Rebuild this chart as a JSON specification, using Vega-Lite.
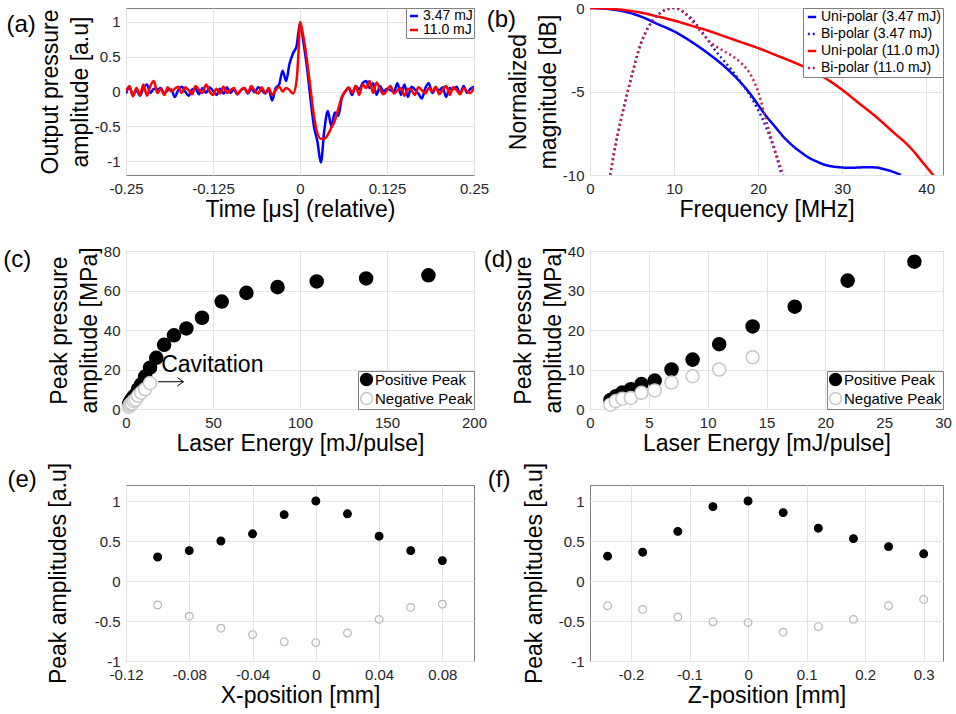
{
"$schema": "https://vega.github.io/schema/vega-lite/v6.json",
"padding": {"left": 2, "top": 0, "right": 5, "bottom": 0},
"config": {
  "font": "Liberation Sans",
  "locale": {"number": {"decimal": ".", "thousands": ",", "grouping": [3], "currency": ["$", ""], "minus": "-"}},
  "view": {"stroke": "#808080", "strokeWidth": 1},
  "axis": {"domain": false, "ticks": false, "grid": true, "gridColor": "#e3e3e3", "labelFont": "Liberation Sans", "labelFontSize": 15, "labelColor": "#262626", "labelPadding": 6, "labelFlush": false, "labelOverlap": false, "titleFont": "Liberation Sans", "titleFontSize": 23, "titleFontWeight": "normal", "titleColor": "#000000", "titlePadding": 2, "titleLineHeight": 30},
  "title": {"font": "Liberation Sans", "fontSize": 24, "fontWeight": "normal", "color": "#000000"},
  "legend": {"labelFont": "Liberation Sans", "labelColor": "#000000"}
},
"datasets": {
  "wave": [
    {"t":-0.25,"v":-0.03,"s":"3.47 mJ"},{"t":-0.245,"v":0.06,"s":"3.47 mJ"},{"t":-0.24,"v":-0.05,"s":"3.47 mJ"},{"t":-0.235,"v":0.02,"s":"3.47 mJ"},{"t":-0.23,"v":-0.06,"s":"3.47 mJ"},{"t":-0.225,"v":0.05,"s":"3.47 mJ"},{"t":-0.22,"v":0.1,"s":"3.47 mJ"},{"t":-0.215,"v":-0.02,"s":"3.47 mJ"},{"t":-0.21,"v":0.04,"s":"3.47 mJ"},{"t":-0.205,"v":0.03,"s":"3.47 mJ"},{"t":-0.2,"v":0.05,"s":"3.47 mJ"},{"t":-0.195,"v":-0.03,"s":"3.47 mJ"},{"t":-0.19,"v":0.02,"s":"3.47 mJ"},{"t":-0.185,"v":0.03,"s":"3.47 mJ"},{"t":-0.18,"v":-0.08,"s":"3.47 mJ"},{"t":-0.175,"v":0.02,"s":"3.47 mJ"},{"t":-0.17,"v":0.07,"s":"3.47 mJ"},{"t":-0.165,"v":0.0,"s":"3.47 mJ"},{"t":-0.16,"v":-0.06,"s":"3.47 mJ"},{"t":-0.155,"v":0.03,"s":"3.47 mJ"},{"t":-0.15,"v":0.04,"s":"3.47 mJ"},{"t":-0.145,"v":-0.04,"s":"3.47 mJ"},{"t":-0.14,"v":0.05,"s":"3.47 mJ"},{"t":-0.135,"v":-0.02,"s":"3.47 mJ"},{"t":-0.13,"v":0.06,"s":"3.47 mJ"},{"t":-0.125,"v":0.01,"s":"3.47 mJ"},{"t":-0.12,"v":-0.05,"s":"3.47 mJ"},{"t":-0.115,"v":0.04,"s":"3.47 mJ"},{"t":-0.11,"v":-0.03,"s":"3.47 mJ"},{"t":-0.105,"v":0.06,"s":"3.47 mJ"},{"t":-0.1,"v":-0.02,"s":"3.47 mJ"},{"t":-0.095,"v":0.03,"s":"3.47 mJ"},{"t":-0.09,"v":-0.04,"s":"3.47 mJ"},{"t":-0.085,"v":0.02,"s":"3.47 mJ"},{"t":-0.08,"v":0.05,"s":"3.47 mJ"},{"t":-0.075,"v":-0.03,"s":"3.47 mJ"},{"t":-0.07,"v":0.04,"s":"3.47 mJ"},{"t":-0.065,"v":-0.01,"s":"3.47 mJ"},{"t":-0.06,"v":0.06,"s":"3.47 mJ"},{"t":-0.055,"v":0.02,"s":"3.47 mJ"},{"t":-0.05,"v":-0.03,"s":"3.47 mJ"},{"t":-0.045,"v":0.03,"s":"3.47 mJ"},{"t":-0.04,"v":-0.13,"s":"3.47 mJ"},{"t":-0.035,"v":0.05,"s":"3.47 mJ"},{"t":-0.03,"v":0.1,"s":"3.47 mJ"},{"t":-0.025,"v":0.3,"s":"3.47 mJ"},{"t":-0.02,"v":0.15,"s":"3.47 mJ"},{"t":-0.015,"v":0.4,"s":"3.47 mJ"},{"t":-0.01,"v":0.55,"s":"3.47 mJ"},{"t":-0.005,"v":0.65,"s":"3.47 mJ"},{"t":0.0,"v":0.98,"s":"3.47 mJ"},{"t":0.005,"v":0.7,"s":"3.47 mJ"},{"t":0.01,"v":0.35,"s":"3.47 mJ"},{"t":0.015,"v":-0.1,"s":"3.47 mJ"},{"t":0.02,"v":-0.5,"s":"3.47 mJ"},{"t":0.025,"v":-0.72,"s":"3.47 mJ"},{"t":0.03,"v":-1.02,"s":"3.47 mJ"},{"t":0.035,"v":-0.55,"s":"3.47 mJ"},{"t":0.04,"v":-0.28,"s":"3.47 mJ"},{"t":0.045,"v":-0.5,"s":"3.47 mJ"},{"t":0.05,"v":-0.3,"s":"3.47 mJ"},{"t":0.055,"v":-0.35,"s":"3.47 mJ"},{"t":0.06,"v":-0.1,"s":"3.47 mJ"},{"t":0.065,"v":0.0,"s":"3.47 mJ"},{"t":0.07,"v":0.05,"s":"3.47 mJ"},{"t":0.075,"v":-0.05,"s":"3.47 mJ"},{"t":0.08,"v":0.08,"s":"3.47 mJ"},{"t":0.085,"v":0.03,"s":"3.47 mJ"},{"t":0.09,"v":0.12,"s":"3.47 mJ"},{"t":0.095,"v":0.15,"s":"3.47 mJ"},{"t":0.1,"v":0.05,"s":"3.47 mJ"},{"t":0.105,"v":0.12,"s":"3.47 mJ"},{"t":0.11,"v":-0.05,"s":"3.47 mJ"},{"t":0.115,"v":0.08,"s":"3.47 mJ"},{"t":0.12,"v":0.0,"s":"3.47 mJ"},{"t":0.125,"v":0.04,"s":"3.47 mJ"},{"t":0.13,"v":0.02,"s":"3.47 mJ"},{"t":0.135,"v":0.0,"s":"3.47 mJ"},{"t":0.14,"v":0.12,"s":"3.47 mJ"},{"t":0.145,"v":-0.05,"s":"3.47 mJ"},{"t":0.15,"v":0.1,"s":"3.47 mJ"},{"t":0.155,"v":-0.08,"s":"3.47 mJ"},{"t":0.16,"v":0.07,"s":"3.47 mJ"},{"t":0.165,"v":0.03,"s":"3.47 mJ"},{"t":0.17,"v":-0.03,"s":"3.47 mJ"},{"t":0.175,"v":-0.1,"s":"3.47 mJ"},{"t":0.18,"v":0.05,"s":"3.47 mJ"},{"t":0.185,"v":0.12,"s":"3.47 mJ"},{"t":0.19,"v":-0.02,"s":"3.47 mJ"},{"t":0.195,"v":0.04,"s":"3.47 mJ"},{"t":0.2,"v":0.02,"s":"3.47 mJ"},{"t":0.205,"v":0.06,"s":"3.47 mJ"},{"t":0.21,"v":-0.08,"s":"3.47 mJ"},{"t":0.215,"v":0.05,"s":"3.47 mJ"},{"t":0.22,"v":0.03,"s":"3.47 mJ"},{"t":0.225,"v":0.07,"s":"3.47 mJ"},{"t":0.23,"v":-0.03,"s":"3.47 mJ"},{"t":0.235,"v":0.08,"s":"3.47 mJ"},{"t":0.24,"v":-0.02,"s":"3.47 mJ"},{"t":0.245,"v":0.04,"s":"3.47 mJ"},{"t":0.25,"v":0.07,"s":"3.47 mJ"},
    {"t":-0.25,"v":0.0,"s":"11.0 mJ"},{"t":-0.245,"v":0.08,"s":"11.0 mJ"},{"t":-0.24,"v":-0.07,"s":"11.0 mJ"},{"t":-0.235,"v":0.05,"s":"11.0 mJ"},{"t":-0.23,"v":-0.05,"s":"11.0 mJ"},{"t":-0.225,"v":0.1,"s":"11.0 mJ"},{"t":-0.22,"v":-0.06,"s":"11.0 mJ"},{"t":-0.215,"v":0.08,"s":"11.0 mJ"},{"t":-0.21,"v":0.15,"s":"11.0 mJ"},{"t":-0.205,"v":-0.02,"s":"11.0 mJ"},{"t":-0.2,"v":0.04,"s":"11.0 mJ"},{"t":-0.195,"v":-0.05,"s":"11.0 mJ"},{"t":-0.19,"v":0.06,"s":"11.0 mJ"},{"t":-0.185,"v":0.0,"s":"11.0 mJ"},{"t":-0.18,"v":0.04,"s":"11.0 mJ"},{"t":-0.175,"v":0.07,"s":"11.0 mJ"},{"t":-0.17,"v":-0.02,"s":"11.0 mJ"},{"t":-0.165,"v":0.06,"s":"11.0 mJ"},{"t":-0.16,"v":0.02,"s":"11.0 mJ"},{"t":-0.155,"v":-0.04,"s":"11.0 mJ"},{"t":-0.15,"v":0.08,"s":"11.0 mJ"},{"t":-0.145,"v":0.02,"s":"11.0 mJ"},{"t":-0.14,"v":-0.02,"s":"11.0 mJ"},{"t":-0.135,"v":0.1,"s":"11.0 mJ"},{"t":-0.13,"v":0.0,"s":"11.0 mJ"},{"t":-0.125,"v":-0.05,"s":"11.0 mJ"},{"t":-0.12,"v":0.04,"s":"11.0 mJ"},{"t":-0.115,"v":-0.03,"s":"11.0 mJ"},{"t":-0.11,"v":0.07,"s":"11.0 mJ"},{"t":-0.105,"v":-0.02,"s":"11.0 mJ"},{"t":-0.1,"v":0.02,"s":"11.0 mJ"},{"t":-0.095,"v":0.05,"s":"11.0 mJ"},{"t":-0.09,"v":-0.04,"s":"11.0 mJ"},{"t":-0.085,"v":0.02,"s":"11.0 mJ"},{"t":-0.08,"v":0.05,"s":"11.0 mJ"},{"t":-0.075,"v":-0.02,"s":"11.0 mJ"},{"t":-0.07,"v":0.08,"s":"11.0 mJ"},{"t":-0.065,"v":0.01,"s":"11.0 mJ"},{"t":-0.06,"v":-0.03,"s":"11.0 mJ"},{"t":-0.055,"v":0.06,"s":"11.0 mJ"},{"t":-0.05,"v":-0.02,"s":"11.0 mJ"},{"t":-0.045,"v":0.05,"s":"11.0 mJ"},{"t":-0.04,"v":-0.05,"s":"11.0 mJ"},{"t":-0.035,"v":0.02,"s":"11.0 mJ"},{"t":-0.03,"v":0.07,"s":"11.0 mJ"},{"t":-0.025,"v":0.0,"s":"11.0 mJ"},{"t":-0.02,"v":0.05,"s":"11.0 mJ"},{"t":-0.015,"v":0.02,"s":"11.0 mJ"},{"t":-0.01,"v":-0.03,"s":"11.0 mJ"},{"t":-0.005,"v":0.15,"s":"11.0 mJ"},{"t":-0.0025,"v":0.5,"s":"11.0 mJ"},{"t":0.0,"v":1.0,"s":"11.0 mJ"},{"t":0.005,"v":0.78,"s":"11.0 mJ"},{"t":0.01,"v":0.45,"s":"11.0 mJ"},{"t":0.015,"v":0.05,"s":"11.0 mJ"},{"t":0.02,"v":-0.35,"s":"11.0 mJ"},{"t":0.025,"v":-0.6,"s":"11.0 mJ"},{"t":0.03,"v":-0.68,"s":"11.0 mJ"},{"t":0.035,"v":-0.68,"s":"11.0 mJ"},{"t":0.04,"v":-0.62,"s":"11.0 mJ"},{"t":0.045,"v":-0.52,"s":"11.0 mJ"},{"t":0.05,"v":-0.42,"s":"11.0 mJ"},{"t":0.055,"v":-0.25,"s":"11.0 mJ"},{"t":0.06,"v":-0.08,"s":"11.0 mJ"},{"t":0.065,"v":0.0,"s":"11.0 mJ"},{"t":0.07,"v":0.06,"s":"11.0 mJ"},{"t":0.075,"v":-0.02,"s":"11.0 mJ"},{"t":0.08,"v":0.08,"s":"11.0 mJ"},{"t":0.085,"v":-0.05,"s":"11.0 mJ"},{"t":0.09,"v":0.1,"s":"11.0 mJ"},{"t":0.095,"v":0.05,"s":"11.0 mJ"},{"t":0.1,"v":0.15,"s":"11.0 mJ"},{"t":0.105,"v":-0.02,"s":"11.0 mJ"},{"t":0.11,"v":0.13,"s":"11.0 mJ"},{"t":0.115,"v":0.03,"s":"11.0 mJ"},{"t":0.12,"v":-0.04,"s":"11.0 mJ"},{"t":0.125,"v":0.02,"s":"11.0 mJ"},{"t":0.13,"v":0.08,"s":"11.0 mJ"},{"t":0.135,"v":-0.03,"s":"11.0 mJ"},{"t":0.14,"v":0.02,"s":"11.0 mJ"},{"t":0.145,"v":0.05,"s":"11.0 mJ"},{"t":0.15,"v":-0.06,"s":"11.0 mJ"},{"t":0.155,"v":0.04,"s":"11.0 mJ"},{"t":0.16,"v":0.02,"s":"11.0 mJ"},{"t":0.165,"v":-0.05,"s":"11.0 mJ"},{"t":0.17,"v":0.06,"s":"11.0 mJ"},{"t":0.175,"v":0.02,"s":"11.0 mJ"},{"t":0.18,"v":-0.03,"s":"11.0 mJ"},{"t":0.185,"v":0.05,"s":"11.0 mJ"},{"t":0.19,"v":0.0,"s":"11.0 mJ"},{"t":0.195,"v":0.07,"s":"11.0 mJ"},{"t":0.2,"v":-0.04,"s":"11.0 mJ"},{"t":0.205,"v":0.03,"s":"11.0 mJ"},{"t":0.21,"v":0.08,"s":"11.0 mJ"},{"t":0.215,"v":-0.05,"s":"11.0 mJ"},{"t":0.22,"v":0.06,"s":"11.0 mJ"},{"t":0.225,"v":0.02,"s":"11.0 mJ"},{"t":0.23,"v":-0.04,"s":"11.0 mJ"},{"t":0.235,"v":0.05,"s":"11.0 mJ"},{"t":0.24,"v":0.0,"s":"11.0 mJ"},{"t":0.245,"v":-0.02,"s":"11.0 mJ"},{"t":0.25,"v":0.06,"s":"11.0 mJ"}
  ],
  "spec": [
    {"f":0,"m":0,"s":"Uni-polar (3.47 mJ)"},{"f":2,"m":-0.05,"s":"Uni-polar (3.47 mJ)"},{"f":4,"m":-0.2,"s":"Uni-polar (3.47 mJ)"},{"f":6,"m":-0.5,"s":"Uni-polar (3.47 mJ)"},{"f":8,"m":-0.95,"s":"Uni-polar (3.47 mJ)"},{"f":10,"m":-1.4,"s":"Uni-polar (3.47 mJ)"},{"f":12,"m":-2.0,"s":"Uni-polar (3.47 mJ)"},{"f":14,"m":-2.7,"s":"Uni-polar (3.47 mJ)"},{"f":16,"m":-3.5,"s":"Uni-polar (3.47 mJ)"},{"f":18,"m":-4.5,"s":"Uni-polar (3.47 mJ)"},{"f":19,"m":-5.1,"s":"Uni-polar (3.47 mJ)"},{"f":20,"m":-5.8,"s":"Uni-polar (3.47 mJ)"},{"f":21,"m":-6.5,"s":"Uni-polar (3.47 mJ)"},{"f":22,"m":-7.1,"s":"Uni-polar (3.47 mJ)"},{"f":23,"m":-7.7,"s":"Uni-polar (3.47 mJ)"},{"f":24,"m":-8.2,"s":"Uni-polar (3.47 mJ)"},{"f":25,"m":-8.6,"s":"Uni-polar (3.47 mJ)"},{"f":26,"m":-8.95,"s":"Uni-polar (3.47 mJ)"},{"f":27,"m":-9.2,"s":"Uni-polar (3.47 mJ)"},{"f":28,"m":-9.4,"s":"Uni-polar (3.47 mJ)"},{"f":29,"m":-9.5,"s":"Uni-polar (3.47 mJ)"},{"f":30,"m":-9.55,"s":"Uni-polar (3.47 mJ)"},{"f":31,"m":-9.57,"s":"Uni-polar (3.47 mJ)"},{"f":32,"m":-9.55,"s":"Uni-polar (3.47 mJ)"},{"f":33,"m":-9.53,"s":"Uni-polar (3.47 mJ)"},{"f":34,"m":-9.55,"s":"Uni-polar (3.47 mJ)"},{"f":35,"m":-9.65,"s":"Uni-polar (3.47 mJ)"},{"f":36,"m":-9.8,"s":"Uni-polar (3.47 mJ)"},{"f":37,"m":-10,"s":"Uni-polar (3.47 mJ)"},
    {"f":2.4,"m":-10,"s":"Bi-polar (3.47 mJ)"},{"f":3,"m":-8.3,"s":"Bi-polar (3.47 mJ)"},{"f":4,"m":-6.0,"s":"Bi-polar (3.47 mJ)"},{"f":5,"m":-4.0,"s":"Bi-polar (3.47 mJ)"},{"f":6,"m":-2.2,"s":"Bi-polar (3.47 mJ)"},{"f":7,"m":-1.1,"s":"Bi-polar (3.47 mJ)"},{"f":8,"m":-0.45,"s":"Bi-polar (3.47 mJ)"},{"f":9,"m":-0.1,"s":"Bi-polar (3.47 mJ)"},{"f":10,"m":0,"s":"Bi-polar (3.47 mJ)"},{"f":11,"m":-0.2,"s":"Bi-polar (3.47 mJ)"},{"f":12,"m":-0.6,"s":"Bi-polar (3.47 mJ)"},{"f":13,"m":-1.2,"s":"Bi-polar (3.47 mJ)"},{"f":14,"m":-1.9,"s":"Bi-polar (3.47 mJ)"},{"f":15,"m":-2.6,"s":"Bi-polar (3.47 mJ)"},{"f":16,"m":-3.2,"s":"Bi-polar (3.47 mJ)"},{"f":17,"m":-3.8,"s":"Bi-polar (3.47 mJ)"},{"f":18,"m":-4.5,"s":"Bi-polar (3.47 mJ)"},{"f":19,"m":-5.2,"s":"Bi-polar (3.47 mJ)"},{"f":20,"m":-6.1,"s":"Bi-polar (3.47 mJ)"},{"f":21,"m":-7.2,"s":"Bi-polar (3.47 mJ)"},{"f":22,"m":-8.6,"s":"Bi-polar (3.47 mJ)"},{"f":22.8,"m":-10,"s":"Bi-polar (3.47 mJ)"},
    {"f":0,"m":0,"s":"Uni-polar (11.0 mJ)"},{"f":2,"m":-0.03,"s":"Uni-polar (11.0 mJ)"},{"f":4,"m":-0.12,"s":"Uni-polar (11.0 mJ)"},{"f":6,"m":-0.27,"s":"Uni-polar (11.0 mJ)"},{"f":8,"m":-0.5,"s":"Uni-polar (11.0 mJ)"},{"f":10,"m":-0.75,"s":"Uni-polar (11.0 mJ)"},{"f":12,"m":-1.05,"s":"Uni-polar (11.0 mJ)"},{"f":14,"m":-1.35,"s":"Uni-polar (11.0 mJ)"},{"f":16,"m":-1.7,"s":"Uni-polar (11.0 mJ)"},{"f":18,"m":-2.05,"s":"Uni-polar (11.0 mJ)"},{"f":20,"m":-2.4,"s":"Uni-polar (11.0 mJ)"},{"f":22,"m":-2.8,"s":"Uni-polar (11.0 mJ)"},{"f":24,"m":-3.2,"s":"Uni-polar (11.0 mJ)"},{"f":26,"m":-3.65,"s":"Uni-polar (11.0 mJ)"},{"f":28,"m":-4.2,"s":"Uni-polar (11.0 mJ)"},{"f":30,"m":-4.9,"s":"Uni-polar (11.0 mJ)"},{"f":32,"m":-5.7,"s":"Uni-polar (11.0 mJ)"},{"f":34,"m":-6.5,"s":"Uni-polar (11.0 mJ)"},{"f":36,"m":-7.4,"s":"Uni-polar (11.0 mJ)"},{"f":38,"m":-8.3,"s":"Uni-polar (11.0 mJ)"},{"f":40,"m":-9.5,"s":"Uni-polar (11.0 mJ)"},{"f":41,"m":-10.1,"s":"Uni-polar (11.0 mJ)"},
    {"f":2.4,"m":-10,"s":"Bi-polar (11.0 mJ)"},{"f":3,"m":-8.3,"s":"Bi-polar (11.0 mJ)"},{"f":4,"m":-6.0,"s":"Bi-polar (11.0 mJ)"},{"f":5,"m":-4.0,"s":"Bi-polar (11.0 mJ)"},{"f":6,"m":-2.2,"s":"Bi-polar (11.0 mJ)"},{"f":7,"m":-1.1,"s":"Bi-polar (11.0 mJ)"},{"f":8,"m":-0.45,"s":"Bi-polar (11.0 mJ)"},{"f":9,"m":-0.1,"s":"Bi-polar (11.0 mJ)"},{"f":10,"m":0,"s":"Bi-polar (11.0 mJ)"},{"f":11,"m":-0.2,"s":"Bi-polar (11.0 mJ)"},{"f":12,"m":-0.7,"s":"Bi-polar (11.0 mJ)"},{"f":13,"m":-1.3,"s":"Bi-polar (11.0 mJ)"},{"f":14,"m":-1.9,"s":"Bi-polar (11.0 mJ)"},{"f":15,"m":-2.3,"s":"Bi-polar (11.0 mJ)"},{"f":16,"m":-2.6,"s":"Bi-polar (11.0 mJ)"},{"f":17,"m":-2.9,"s":"Bi-polar (11.0 mJ)"},{"f":18,"m":-3.3,"s":"Bi-polar (11.0 mJ)"},{"f":19,"m":-3.9,"s":"Bi-polar (11.0 mJ)"},{"f":20,"m":-5.0,"s":"Bi-polar (11.0 mJ)"},{"f":21,"m":-6.8,"s":"Bi-polar (11.0 mJ)"},{"f":22,"m":-8.5,"s":"Bi-polar (11.0 mJ)"},{"f":23,"m":-10,"s":"Bi-polar (11.0 mJ)"}
  ],
  "cdata": [
    {"E":1.74,"P":2.3,"k":"Positive Peak"},{"E":2.19,"P":3.2,"k":"Positive Peak"},{"E":2.75,"P":4.2,"k":"Positive Peak"},{"E":3.47,"P":5.0,"k":"Positive Peak"},{"E":4.37,"P":6.3,"k":"Positive Peak"},{"E":5.5,"P":7.2,"k":"Positive Peak"},{"E":6.93,"P":10.0,"k":"Positive Peak"},{"E":8.72,"P":12.5,"k":"Positive Peak"},{"E":10.98,"P":16.4,"k":"Positive Peak"},{"E":13.82,"P":20.9,"k":"Positive Peak"},{"E":17.4,"P":25.9,"k":"Positive Peak"},{"E":21.9,"P":32.5,"k":"Positive Peak"},{"E":27.57,"P":37.3,"k":"Positive Peak"},{"E":34.7,"P":40.8,"k":"Positive Peak"},{"E":43.7,"P":46.2,"k":"Positive Peak"},{"E":55.0,"P":54.4,"k":"Positive Peak"},{"E":69.2,"P":58.8,"k":"Positive Peak"},{"E":87.1,"P":61.7,"k":"Positive Peak"},{"E":109.6,"P":64.6,"k":"Positive Peak"},{"E":138.0,"P":66.1,"k":"Positive Peak"},{"E":173.8,"P":67.7,"k":"Positive Peak"},
    {"E":1.74,"P":1.1,"k":"Negative Peak"},{"E":2.19,"P":2.0,"k":"Negative Peak"},{"E":2.75,"P":2.6,"k":"Negative Peak"},{"E":3.47,"P":2.8,"k":"Negative Peak"},{"E":4.37,"P":4.1,"k":"Negative Peak"},{"E":5.5,"P":4.7,"k":"Negative Peak"},{"E":6.93,"P":6.7,"k":"Negative Peak"},{"E":8.72,"P":8.3,"k":"Negative Peak"},{"E":10.98,"P":10.0,"k":"Negative Peak"},{"E":13.82,"P":13.1,"k":"Negative Peak"}
  ],
  "edata": [
    {"x":-0.1,"a":0.3,"k":"pos"},{"x":-0.08,"a":0.38,"k":"pos"},{"x":-0.06,"a":0.5,"k":"pos"},{"x":-0.04,"a":0.59,"k":"pos"},{"x":-0.02,"a":0.83,"k":"pos"},{"x":0,"a":1.0,"k":"pos"},{"x":0.02,"a":0.84,"k":"pos"},{"x":0.04,"a":0.56,"k":"pos"},{"x":0.06,"a":0.38,"k":"pos"},{"x":0.08,"a":0.255,"k":"pos"},
    {"x":-0.1,"a":-0.3,"k":"neg"},{"x":-0.08,"a":-0.44,"k":"neg"},{"x":-0.06,"a":-0.59,"k":"neg"},{"x":-0.04,"a":-0.67,"k":"neg"},{"x":-0.02,"a":-0.76,"k":"neg"},{"x":0,"a":-0.77,"k":"neg"},{"x":0.02,"a":-0.65,"k":"neg"},{"x":0.04,"a":-0.48,"k":"neg"},{"x":0.06,"a":-0.33,"k":"neg"},{"x":0.08,"a":-0.29,"k":"neg"}
  ],
  "fdata": [
    {"z":-0.24,"a":0.31,"k":"pos"},{"z":-0.18,"a":0.36,"k":"pos"},{"z":-0.12,"a":0.62,"k":"pos"},{"z":-0.06,"a":0.93,"k":"pos"},{"z":0,"a":1.0,"k":"pos"},{"z":0.06,"a":0.855,"k":"pos"},{"z":0.12,"a":0.66,"k":"pos"},{"z":0.18,"a":0.53,"k":"pos"},{"z":0.24,"a":0.43,"k":"pos"},{"z":0.3,"a":0.34,"k":"pos"},
    {"z":-0.24,"a":-0.31,"k":"neg"},{"z":-0.18,"a":-0.355,"k":"neg"},{"z":-0.12,"a":-0.45,"k":"neg"},{"z":-0.06,"a":-0.51,"k":"neg"},{"z":0,"a":-0.52,"k":"neg"},{"z":0.06,"a":-0.64,"k":"neg"},{"z":0.12,"a":-0.57,"k":"neg"},{"z":0.18,"a":-0.48,"k":"neg"},{"z":0.24,"a":-0.31,"k":"neg"},{"z":0.3,"a":-0.23,"k":"neg"}
  ],
  "notes": [{"E":20.2,"P":22.4,"label":"Cavitation"}],
  "arrow": [{"E":33.0,"E0":18.5,"P":13.8}]
},
"columns": 2,
"bounds": "flush",
"align": "each",
"spacing": {"row": 76, "column": 116},
"resolve": {"scale": {"color": "independent", "fill": "independent", "stroke": "independent", "strokeDash": "independent"}, "legend": {"color": "independent", "fill": "independent", "stroke": "independent", "strokeDash": "independent"}},
"concat": [
  {
    "width": 348, "height": 167,
    "title": {"text": "(a)", "orient": "left", "angle": 0, "anchor": "end", "align": "right", "baseline": "top", "offset": -26, "dy": 5},
    "data": {"name": "wave"},
    "mark": {"type": "line", "strokeWidth": 2.5, "interpolate": "monotone", "clip": true},
    "encoding": {
      "x": {"field": "t", "type": "quantitative", "scale": {"domain": [-0.25, 0.25], "nice": false, "zero": false}, "axis": {"values": [-0.25, -0.125, 0, 0.125, 0.25], "format": ".4~g", "title": "Time [μs] (relative)"}},
      "y": {"field": "v", "type": "quantitative", "scale": {"domain": [-1.2, 1.2], "nice": false}, "axis": {"values": [-1, -0.5, 0, 0.5, 1], "format": ".4~g", "title": ["Output pressure", "amplitude [a.u]"]}},
      "color": {"field": "s", "type": "nominal", "scale": {"domain": ["3.47 mJ", "11.0 mJ"], "range": ["#0000ff", "#ff0000"]}, "legend": {"title": null, "orient": "top-right", "offset": 0, "symbolType": "stroke", "symbolStrokeWidth": 2.5, "symbolSize": 64, "labelFontSize": 14, "padding": 1, "rowPadding": 0, "labelOffset": 2, "strokeColor": "#808080", "fillColor": "#ffffff"}}
    }
  },
  {
    "width": 353, "height": 167,
    "title": {"text": "(b)", "orient": "left", "angle": 0, "anchor": "end", "align": "right", "baseline": "top", "offset": -38, "dy": 7},
    "data": {"name": "spec"},
    "mark": {"type": "line", "strokeWidth": 2.5, "interpolate": "monotone", "clip": true},
    "encoding": {
      "x": {"field": "f", "type": "quantitative", "scale": {"domain": [0, 42], "nice": false}, "axis": {"values": [0, 10, 20, 30, 40], "title": "Frequency [MHz]"}},
      "y": {"field": "m", "type": "quantitative", "scale": {"domain": [-10, 0], "nice": false}, "axis": {"values": [-10, -5, 0], "title": ["Normalized", "magnitude [dB]"]}},
      "color": {"field": "s", "type": "nominal", "scale": {"domain": ["Uni-polar (3.47 mJ)", "Bi-polar (3.47 mJ)", "Uni-polar (11.0 mJ)", "Bi-polar (11.0 mJ)"], "range": ["#0000ff", "#2020c0", "#ff0000", "#c02050"]}, "legend": {"title": null, "orient": "top-right", "offset": 0, "symbolType": "stroke", "symbolStrokeWidth": 2.5, "symbolSize": 70, "labelFontSize": 14, "padding": 2, "rowPadding": 3, "labelOffset": 2, "strokeColor": "#808080", "fillColor": "#ffffff"}},
      "strokeDash": {"field": "s", "type": "nominal", "scale": {"domain": ["Uni-polar (3.47 mJ)", "Bi-polar (3.47 mJ)", "Uni-polar (11.0 mJ)", "Bi-polar (11.0 mJ)"], "range": [[1, 0], [2, 3], [1, 0], [2, 3]]}, "legend": {"title": null, "orient": "top-right", "offset": 0, "symbolType": "stroke", "symbolStrokeWidth": 2.5, "symbolSize": 70, "labelFontSize": 14, "padding": 2, "rowPadding": 3, "labelOffset": 2, "strokeColor": "#808080", "fillColor": "#ffffff"}}
    }
  },
  {
    "width": 348, "height": 158,
    "title": {"text": "(c)", "orient": "left", "angle": 0, "anchor": "end", "align": "right", "baseline": "top", "offset": -11, "dy": 4},
    "encoding": {
      "x": {"field": "E", "type": "quantitative", "scale": {"domain": [0, 200], "nice": false}, "axis": {"values": [0, 50, 100, 150, 200], "title": "Laser Energy [mJ/pulse]"}},
      "y": {"field": "P", "type": "quantitative", "scale": {"domain": [0, 80], "nice": false}, "axis": {"values": [0, 20, 40, 60, 80], "title": ["Peak pressure", "amplitude [MPa]"]}}
    },
    "layer": [
      {
        "data": {"name": "cdata"},
        "mark": {"type": "circle", "size": 170, "opacity": 1, "strokeWidth": 1.5},
        "encoding": {
          "fill": {"field": "k", "type": "nominal", "scale": {"domain": ["Positive Peak", "Negative Peak"], "range": ["#000000", "#ffffff"]}, "legend": {"title": null, "orient": "bottom-right", "offset": 0, "symbolSize": 140, "symbolStrokeWidth": 1.5, "labelFontSize": 15, "padding": 1, "rowPadding": 0, "labelOffset": 1, "strokeColor": "#808080", "fillColor": "#ffffff"}},
          "stroke": {"field": "k", "type": "nominal", "scale": {"domain": ["Positive Peak", "Negative Peak"], "range": ["#000000", "#c8c8c8"]}, "legend": {"title": null, "orient": "bottom-right", "offset": 0, "symbolSize": 140, "symbolStrokeWidth": 1.5, "labelFontSize": 15, "padding": 1, "rowPadding": 0, "labelOffset": 1, "strokeColor": "#808080", "fillColor": "#ffffff"}}
        }
      },
      {
        "data": {"name": "notes"},
        "mark": {"type": "text", "align": "left", "baseline": "middle", "fontSize": 23, "font": "Liberation Sans", "color": "#000000"},
        "encoding": {"text": {"field": "label"}}
      },
      {
        "data": {"name": "arrow"},
        "mark": {"type": "rule", "strokeWidth": 1, "color": "#000000"},
        "encoding": {"x2": {"field": "E0"}}
      },
      {
        "data": {"name": "arrow"},
        "mark": {"type": "point", "shape": "M-1,-0.7L0,0L-1,0.7", "size": 150, "filled": false, "color": "#000000", "strokeWidth": 1, "opacity": 1},
        "encoding": {}
      }
    ]
  },
  {
    "width": 353, "height": 158,
    "title": {"text": "(d)", "orient": "left", "angle": 0, "anchor": "end", "align": "right", "baseline": "top", "offset": -30, "dy": 4},
    "data": {"name": "cdata"},
    "transform": [{"filter": "datum.E < 30"}],
    "mark": {"type": "circle", "size": 170, "opacity": 1, "strokeWidth": 1.5},
    "encoding": {
      "x": {"field": "E", "type": "quantitative", "scale": {"domain": [0, 30], "nice": false}, "axis": {"values": [0, 5, 10, 15, 20, 25, 30], "title": "Laser Energy [mJ/pulse]"}},
      "y": {"field": "P", "type": "quantitative", "scale": {"domain": [0, 40], "nice": false}, "axis": {"values": [0, 10, 20, 30, 40], "title": ["Peak pressure", "amplitude [MPa]"]}},
      "fill": {"field": "k", "type": "nominal", "scale": {"domain": ["Positive Peak", "Negative Peak"], "range": ["#000000", "#ffffff"]}, "legend": {"title": null, "orient": "bottom-right", "offset": 0, "symbolSize": 140, "symbolStrokeWidth": 1.5, "labelFontSize": 15, "padding": 1, "rowPadding": 0, "labelOffset": 1, "strokeColor": "#808080", "fillColor": "#ffffff"}},
      "stroke": {"field": "k", "type": "nominal", "scale": {"domain": ["Positive Peak", "Negative Peak"], "range": ["#000000", "#c8c8c8"]}, "legend": {"title": null, "orient": "bottom-right", "offset": 0, "symbolSize": 140, "symbolStrokeWidth": 1.5, "labelFontSize": 15, "padding": 1, "rowPadding": 0, "labelOffset": 1, "strokeColor": "#808080", "fillColor": "#ffffff"}}
    }
  },
  {
    "width": 348, "height": 176,
    "title": {"text": "(e)", "orient": "left", "angle": 0, "anchor": "end", "align": "right", "baseline": "top", "offset": -19, "dy": 6},
    "data": {"name": "edata"},
    "mark": {"type": "point", "size": 60, "opacity": 1, "strokeWidth": 1.2},
    "encoding": {
      "x": {"field": "x", "type": "quantitative", "scale": {"domain": [-0.12, 0.1], "nice": false, "zero": false}, "axis": {"values": [-0.12, -0.08, -0.04, 0, 0.04, 0.08], "format": ".4~g", "title": "X-position [mm]"}},
      "y": {"field": "a", "type": "quantitative", "scale": {"domain": [-1, 1.2], "nice": false}, "axis": {"values": [-1, -0.5, 0, 0.5, 1], "format": ".4~g", "title": "Peak amplitudes [a.u]", "titlePadding": 24}},
      "fill": {"field": "k", "type": "nominal", "scale": {"domain": ["pos", "neg"], "range": ["#000000", "transparent"]}, "legend": null},
      "stroke": {"field": "k", "type": "nominal", "scale": {"domain": ["pos", "neg"], "range": ["#000000", "#b8b8b8"]}, "legend": null}
    }
  },
  {
    "width": 353, "height": 176,
    "title": {"text": "(f)", "orient": "left", "angle": 0, "anchor": "end", "align": "right", "baseline": "top", "offset": -10, "dy": 6},
    "data": {"name": "fdata"},
    "mark": {"type": "point", "size": 60, "opacity": 1, "strokeWidth": 1.2},
    "encoding": {
      "x": {"field": "z", "type": "quantitative", "scale": {"domain": [-0.27, 0.333], "nice": false, "zero": false}, "axis": {"values": [-0.2, -0.1, 0, 0.1, 0.2, 0.3], "format": ".4~g", "title": "Z-position [mm]"}},
      "y": {"field": "a", "type": "quantitative", "scale": {"domain": [-1, 1.2], "nice": false}, "axis": {"values": [-1, -0.5, 0, 0.5, 1], "format": ".4~g", "title": "Peak amplitudes [a.u]", "titlePadding": 12}},
      "fill": {"field": "k", "type": "nominal", "scale": {"domain": ["pos", "neg"], "range": ["#000000", "transparent"]}, "legend": null},
      "stroke": {"field": "k", "type": "nominal", "scale": {"domain": ["pos", "neg"], "range": ["#000000", "#b8b8b8"]}, "legend": null}
    }
  }
]
}
